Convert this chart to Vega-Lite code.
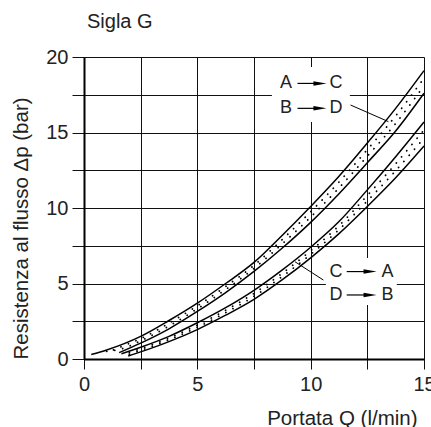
{
  "$schema": "https://vega.github.io/schema/vega-lite/v6.json",
  "width": 340,
  "height": 302,
  "autosize": {"type": "none"},
  "padding": {"left": 84, "top": 57, "right": 7, "bottom": 68},
  "background": "white",
  "title": {"text": "Sigla G", "anchor": "start", "frame": "group", "fontSize": 20, "font": "Liberation Sans", "fontWeight": "normal", "color": "#222", "offset": 15, "dx": 3},
  "config": {"view": {"stroke": null}},
  "datasets": {
    "curves": [
      {"s": "U1", "x": 0.32, "y": 0.3}, {"s": "U1", "x": 1, "y": 0.6}, {"s": "U1", "x": 2.5, "y": 1.5}, {"s": "U1", "x": 3.75, "y": 2.55}, {"s": "U1", "x": 5, "y": 3.7}, {"s": "U1", "x": 6.25, "y": 5.0}, {"s": "U1", "x": 7.5, "y": 6.4}, {"s": "U1", "x": 8.75, "y": 8.2}, {"s": "U1", "x": 10, "y": 10.1}, {"s": "U1", "x": 11.25, "y": 12.1}, {"s": "U1", "x": 12.5, "y": 14.3}, {"s": "U1", "x": 13.75, "y": 16.6}, {"s": "U1", "x": 15, "y": 19.1},
      {"s": "L1", "x": 1.55, "y": 0.42}, {"s": "L1", "x": 2.5, "y": 1.05}, {"s": "L1", "x": 3.75, "y": 2.0}, {"s": "L1", "x": 5, "y": 3.15}, {"s": "L1", "x": 6.25, "y": 4.4}, {"s": "L1", "x": 7.5, "y": 5.8}, {"s": "L1", "x": 8.75, "y": 7.35}, {"s": "L1", "x": 10, "y": 9.05}, {"s": "L1", "x": 11.25, "y": 10.95}, {"s": "L1", "x": 12.5, "y": 13.0}, {"s": "L1", "x": 13.75, "y": 15.1}, {"s": "L1", "x": 15, "y": 17.6},
      {"s": "U2", "x": 1.65, "y": 0.35}, {"s": "U2", "x": 2.5, "y": 0.78}, {"s": "U2", "x": 3.75, "y": 1.5}, {"s": "U2", "x": 5, "y": 2.4}, {"s": "U2", "x": 6.25, "y": 3.4}, {"s": "U2", "x": 7.5, "y": 4.55}, {"s": "U2", "x": 8.75, "y": 5.9}, {"s": "U2", "x": 10, "y": 7.4}, {"s": "U2", "x": 11.25, "y": 9.1}, {"s": "U2", "x": 12.5, "y": 11.2}, {"s": "U2", "x": 13.75, "y": 13.4}, {"s": "U2", "x": 15, "y": 15.7},
      {"s": "L2", "x": 1.95, "y": 0.2}, {"s": "L2", "x": 2.5, "y": 0.47}, {"s": "L2", "x": 3.75, "y": 1.15}, {"s": "L2", "x": 5, "y": 1.95}, {"s": "L2", "x": 6.25, "y": 2.9}, {"s": "L2", "x": 7.5, "y": 3.95}, {"s": "L2", "x": 8.75, "y": 5.25}, {"s": "L2", "x": 10, "y": 6.7}, {"s": "L2", "x": 11.25, "y": 8.3}, {"s": "L2", "x": 12.5, "y": 10.1}, {"s": "L2", "x": 13.75, "y": 12.0}, {"s": "L2", "x": 15, "y": 14.1}
    ],
    "dots": [
      {"s": "a1", "x": 1.0, "y": 0.5}, {"s": "a1", "x": 1.7, "y": 0.69}, {"s": "a1", "x": 2.5, "y": 1.2}, {"s": "a1", "x": 3.75, "y": 2.18}, {"s": "a1", "x": 5, "y": 3.33}, {"s": "a1", "x": 6.25, "y": 4.6}, {"s": "a1", "x": 7.5, "y": 6.0}, {"s": "a1", "x": 8.75, "y": 7.63}, {"s": "a1", "x": 10, "y": 9.4}, {"s": "a1", "x": 11.25, "y": 11.33}, {"s": "a1", "x": 12.5, "y": 13.43}, {"s": "a1", "x": 13.75, "y": 15.6}, {"s": "a1", "x": 15, "y": 18.1},
      {"s": "a2", "x": 1.3, "y": 0.6}, {"s": "a2", "x": 1.7, "y": 0.85}, {"s": "a2", "x": 2.5, "y": 1.35}, {"s": "a2", "x": 3.75, "y": 2.37}, {"s": "a2", "x": 5, "y": 3.52}, {"s": "a2", "x": 6.25, "y": 4.8}, {"s": "a2", "x": 7.5, "y": 6.2}, {"s": "a2", "x": 8.75, "y": 7.92}, {"s": "a2", "x": 10, "y": 9.75}, {"s": "a2", "x": 11.25, "y": 11.72}, {"s": "a2", "x": 12.5, "y": 13.87}, {"s": "a2", "x": 13.75, "y": 16.1}, {"s": "a2", "x": 15, "y": 18.6},
      {"s": "b1", "x": 2.0, "y": 0.32}, {"s": "b1", "x": 2.5, "y": 0.57}, {"s": "b1", "x": 3.75, "y": 1.27}, {"s": "b1", "x": 5, "y": 2.1}, {"s": "b1", "x": 6.25, "y": 3.07}, {"s": "b1", "x": 7.5, "y": 4.15}, {"s": "b1", "x": 8.75, "y": 5.47}, {"s": "b1", "x": 10, "y": 6.93}, {"s": "b1", "x": 11.25, "y": 8.57}, {"s": "b1", "x": 12.5, "y": 10.47}, {"s": "b1", "x": 13.75, "y": 12.47}, {"s": "b1", "x": 15, "y": 14.63},
      {"s": "b2", "x": 2.0, "y": 0.43}, {"s": "b2", "x": 2.5, "y": 0.68}, {"s": "b2", "x": 3.75, "y": 1.38}, {"s": "b2", "x": 5, "y": 2.25}, {"s": "b2", "x": 6.25, "y": 3.23}, {"s": "b2", "x": 7.5, "y": 4.35}, {"s": "b2", "x": 8.75, "y": 5.68}, {"s": "b2", "x": 10, "y": 7.17}, {"s": "b2", "x": 11.25, "y": 8.83}, {"s": "b2", "x": 12.5, "y": 10.83}, {"s": "b2", "x": 13.75, "y": 12.93}, {"s": "b2", "x": 15, "y": 15.17}
    ],
    "boxes": [
      {"x": 8.29, "x2": 11.73, "y": 15.7, "y2": 19.34},
      {"x": 10.67, "x2": 13.8, "y": 3.58, "y2": 6.69}
    ],
    "leaders": [
      {"x": 11.76, "y": 16.82, "x2": 13.43, "y2": 15.72},
      {"x": 10.56, "y": 5.23, "x2": 9.31, "y2": 6.44}
    ],
    "shafts": [
      {"x": 9.42, "x2": 10.3, "y": 18.25},
      {"x": 9.42, "x2": 10.3, "y": 16.6},
      {"x": 11.59, "x2": 12.5, "y": 5.79},
      {"x": 11.59, "x2": 12.5, "y": 4.24}
    ],
    "heads": [
      {"x": 10.41, "y": 18.25},
      {"x": 10.41, "y": 16.6},
      {"x": 12.62, "y": 5.79},
      {"x": 12.62, "y": 4.24}
    ],
    "labels": [
      {"t": "A", "x": 8.91, "y": 18.25}, {"t": "C", "x": 11.12, "y": 18.25},
      {"t": "B", "x": 8.91, "y": 16.6}, {"t": "D", "x": 11.12, "y": 16.6},
      {"t": "C", "x": 11.12, "y": 5.79}, {"t": "A", "x": 13.39, "y": 5.79},
      {"t": "D", "x": 11.12, "y": 4.24}, {"t": "B", "x": 13.39, "y": 4.24}
    ]
  },
  "encoding": {
    "x": {
      "field": "x", "type": "quantitative",
      "scale": {"domain": [0, 15], "nice": false, "zero": false},
      "axis": {
        "values": [0, 2.5, 5, 7.5, 10, 12.5, 15],
        "labelExpr": "datum.value % 5 === 0 ? format(datum.value, 'd') : ''",
        "grid": true, "gridColor": "#111", "gridWidth": 1, "gridOpacity": 1,
        "domainColor": "#000", "domainWidth": 2,
        "tickColor": "#111", "tickWidth": 1, "tickSize": 10,
        "labelFont": "Liberation Sans", "labelFontSize": 20, "labelColor": "#222", "labelPadding": 5,
        "labelFlush": false, "labelOverlap": false,
        "title": "Portata Q (l/min)", "titleFont": "Liberation Sans", "titleFontSize": 20.5, "titleFontWeight": "normal", "titleColor": "#222",
        "titleAnchor": "end", "titleAlign": "right", "titleX": 333, "titlePadding": 14
      }
    },
    "y": {
      "field": "y", "type": "quantitative",
      "scale": {"domain": [0, 20], "nice": false},
      "axis": {
        "values": [0, 2.5, 5, 7.5, 10, 12.5, 15, 17.5, 20],
        "labelExpr": "datum.value % 5 === 0 ? format(datum.value, 'd') : ''",
        "grid": true, "gridColor": "#111", "gridWidth": 1, "gridOpacity": 1,
        "domainColor": "#000", "domainWidth": 2,
        "tickColor": "#111", "tickWidth": 1, "tickSize": 12,
        "labelFont": "Liberation Sans", "labelFontSize": 20, "labelColor": "#222", "labelPadding": 4,
        "labelFlush": false, "labelOverlap": false,
        "title": "Resistenza al flusso Δp (bar)", "titleFont": "Liberation Sans", "titleFontSize": 20.5, "titleFontWeight": "normal", "titleColor": "#222",
        "titleAnchor": "start", "titlePadding": 14
      }
    }
  },
  "layer": [
    {
      "data": {"name": "boxes"},
      "mark": {"type": "rect", "fill": "white", "stroke": null},
      "encoding": {"x2": {"field": "x2"}, "y2": {"field": "y2"}}
    },
    {
      "data": {"name": "curves"},
      "mark": {"type": "line", "color": "#000", "strokeWidth": 1.5, "interpolate": "monotone"},
      "encoding": {"detail": {"field": "s", "type": "nominal"}, "order": {"field": "x", "type": "quantitative"}}
    },
    {
      "data": {"name": "dots"},
      "mark": {"type": "line", "color": "#000", "strokeWidth": 1.8, "strokeCap": "round", "strokeDash": [0.1, 8], "interpolate": "monotone"},
      "encoding": {"detail": {"field": "s", "type": "nominal"}, "order": {"field": "x", "type": "quantitative"}}
    },
    {
      "data": {"name": "leaders"},
      "mark": {"type": "rule", "color": "#000", "strokeWidth": 1},
      "encoding": {"x2": {"field": "x2"}, "y2": {"field": "y2"}}
    },
    {
      "data": {"name": "shafts"},
      "mark": {"type": "rule", "color": "#000", "strokeWidth": 1.2},
      "encoding": {"x2": {"field": "x2"}}
    },
    {
      "data": {"name": "heads"},
      "mark": {"type": "point", "shape": "M-1,-0.35L1,0L-1,0.35Z", "size": 169, "filled": true, "color": "#000", "opacity": 1, "strokeWidth": 0}
    },
    {
      "data": {"name": "labels"},
      "mark": {"type": "text", "font": "Liberation Sans", "fontSize": 18, "color": "#222", "baseline": "middle", "align": "center"},
      "encoding": {"text": {"field": "t"}}
    }
  ]
}
